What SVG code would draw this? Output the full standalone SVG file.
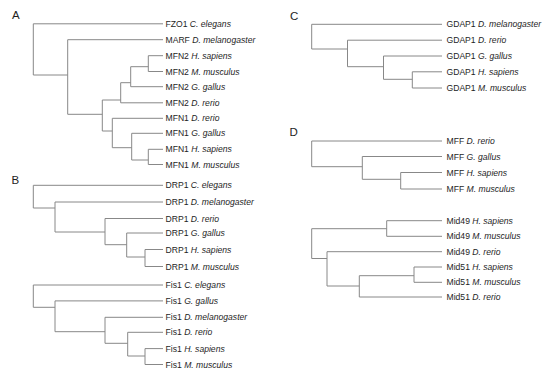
<svg xmlns="http://www.w3.org/2000/svg" width="550" height="377" viewBox="0 0 550 377">
<style>
.e{fill:none;stroke:#888;stroke-width:1}
.t{font-family:"Liberation Sans",Arial,sans-serif;font-size:8.6px;fill:#1e1e1e}
.t tspan{font-style:italic}
.p{font-family:"Liberation Sans",Arial,sans-serif;font-size:11.5px;fill:#1e1e1e}
</style>
<rect width="550" height="377" fill="#fff"/>
<g id="connectors" class="e">
<path id="tree-A" d="M33.3,23.8V75 M33.3,23.8H163 M33.3,75H67.7 M67.7,39.7V114.3 M67.7,39.7H163 M67.7,114.3H102.3 M102.3,100V131 M102.3,100H120.7 M102.3,131H112.3 M120.7,82.7V102.8 M120.7,82.7H130.7 M120.7,102.8H163 M130.7,66.7V86.7 M130.7,66.7H148.3 M130.7,86.7H163 M148.3,55.7V71.5 M148.3,55.7H163 M148.3,71.5H163 M112.3,118.3V147.7 M112.3,118.3H163 M112.3,147.7H131.7 M131.7,133.3V160 M131.7,133.3H163 M131.7,160H148.3 M148.3,149.3V164.5 M148.3,149.3H163 M148.3,164.5H163"/>
<path id="tree-B-DRP1" d="M33.3,185.3V208 M33.3,185.3H163 M33.3,208H55 M55,202V232 M55,202H163 M55,232H105 M105,218.5V244.7 M105,218.5H163 M105,244.7H126.7 M126.7,233V257 M126.7,233H163 M126.7,257H145 M145,249.5V266.5 M145,249.5H163 M145,266.5H163"/>
<path id="tree-B-Fis1" d="M33.3,285V307.3 M33.3,285H163 M33.3,307.3H55 M55,300.9V331.7 M55,300.9H163 M55,331.7H105 M105,317.3V343.3 M105,317.3H163 M105,343.3H127.7 M127.7,332.3V356 M127.7,332.3H163 M127.7,356H145 M145,348.6V364.5 M145,348.6H163 M145,364.5H163"/>
<path id="tree-C" d="M311.7,24.3V49 M311.7,24.3H442 M311.7,49H347.5 M347.5,40.2V66.7 M347.5,40.2H442 M347.5,66.7H383.5 M383.5,56V79.3 M383.5,56H442 M383.5,79.3H412.3 M412.3,71.8V88 M412.3,71.8H442 M412.3,88H442"/>
<path id="tree-D-MFF" d="M311.7,141V166.7 M311.7,141H442 M311.7,166.7H362.3 M362.3,156.5V179.3 M362.3,156.5H442 M362.3,179.3H400.7 M400.7,172.5V189 M400.7,172.5H442 M400.7,189H442"/>
<path id="tree-D-Mid" d="M311.7,228.7V258.5 M311.7,228.7H386.7 M386.7,220.7V236.3 M386.7,220.7H442 M386.7,236.3H442 M311.7,258.5H327 M327,251.7V286 M327,251.7H442 M327,286H359.3 M359.3,275.7V297 M359.3,297H442 M359.3,275.7H414 M414,267V282.3 M414,267H442 M414,282.3H442"/>
</g>
<g id="label-A"><text class="p" x="12" y="19">A</text></g>
<g id="label-B"><text class="p" x="11.5" y="184">B</text></g>
<g id="label-C"><text class="p" x="290" y="19.5">C</text></g>
<g id="label-D"><text class="p" x="289.5" y="135.5">D</text></g>
<g id="A-FZO1-Ce"><text class="t" x="165.5" y="26.8">FZO1 <tspan>C. elegans</tspan></text></g>
<g id="A-MARF-Dm"><text class="t" x="165.5" y="42.7">MARF <tspan>D. melanogaster</tspan></text></g>
<g id="A-MFN2-Hs"><text class="t" x="165.5" y="58.7">MFN2 <tspan>H. sapiens</tspan></text></g>
<g id="A-MFN2-Mm"><text class="t" x="165.5" y="74.5">MFN2 <tspan>M. musculus</tspan></text></g>
<g id="A-MFN2-Gg"><text class="t" x="165.5" y="89.7">MFN2 <tspan>G. gallus</tspan></text></g>
<g id="A-MFN2-Dr"><text class="t" x="165.5" y="105.8">MFN2 <tspan>D. rerio</tspan></text></g>
<g id="A-MFN1-Dr"><text class="t" x="165.5" y="121.3">MFN1 <tspan>D. rerio</tspan></text></g>
<g id="A-MFN1-Gg"><text class="t" x="165.5" y="136.3">MFN1 <tspan>G. gallus</tspan></text></g>
<g id="A-MFN1-Hs"><text class="t" x="165.5" y="152.3">MFN1 <tspan>H. sapiens</tspan></text></g>
<g id="A-MFN1-Mm"><text class="t" x="165.5" y="167.5">MFN1 <tspan>M. musculus</tspan></text></g>
<g id="B-DRP1-Ce"><text class="t" x="165.5" y="188.3">DRP1 <tspan>C. elegans</tspan></text></g>
<g id="B-DRP1-Dm"><text class="t" x="165.5" y="205">DRP1 <tspan>D. melanogaster</tspan></text></g>
<g id="B-DRP1-Dr"><text class="t" x="165.5" y="221.5">DRP1 <tspan>D. rerio</tspan></text></g>
<g id="B-DRP1-Gg"><text class="t" x="165.5" y="236">DRP1 <tspan>G. gallus</tspan></text></g>
<g id="B-DRP1-Hs"><text class="t" x="165.5" y="252.5">DRP1 <tspan>H. sapiens</tspan></text></g>
<g id="B-DRP1-Mm"><text class="t" x="165.5" y="269.5">DRP1 <tspan>M. musculus</tspan></text></g>
<g id="B-Fis1-Ce"><text class="t" x="165.5" y="288">Fis1 <tspan>C. elegans</tspan></text></g>
<g id="B-Fis1-Gg"><text class="t" x="165.5" y="303.9">Fis1 <tspan>G. gallus</tspan></text></g>
<g id="B-Fis1-Dm"><text class="t" x="165.5" y="320.3">Fis1 <tspan>D. melanogaster</tspan></text></g>
<g id="B-Fis1-Dr"><text class="t" x="165.5" y="335.3">Fis1 <tspan>D. rerio</tspan></text></g>
<g id="B-Fis1-Hs"><text class="t" x="165.5" y="351.6">Fis1 <tspan>H. sapiens</tspan></text></g>
<g id="B-Fis1-Mm"><text class="t" x="165.5" y="367.5">Fis1 <tspan>M. musculus</tspan></text></g>
<g id="C-GDAP1-Dm"><text class="t" x="446.5" y="27.3">GDAP1 <tspan>D. melanogaster</tspan></text></g>
<g id="C-GDAP1-Dr"><text class="t" x="446.5" y="43.2">GDAP1 <tspan>D. rerio</tspan></text></g>
<g id="C-GDAP1-Gg"><text class="t" x="446.5" y="59">GDAP1 <tspan>G. gallus</tspan></text></g>
<g id="C-GDAP1-Hs"><text class="t" x="446.5" y="74.8">GDAP1 <tspan>H. sapiens</tspan></text></g>
<g id="C-GDAP1-Mm"><text class="t" x="446.5" y="91">GDAP1 <tspan>M. musculus</tspan></text></g>
<g id="D-MFF-Dr"><text class="t" x="446.5" y="144">MFF <tspan>D. rerio</tspan></text></g>
<g id="D-MFF-Gg"><text class="t" x="446.5" y="159.5">MFF <tspan>G. gallus</tspan></text></g>
<g id="D-MFF-Hs"><text class="t" x="446.5" y="175.5">MFF <tspan>H. sapiens</tspan></text></g>
<g id="D-MFF-Mm"><text class="t" x="446.5" y="192">MFF <tspan>M. musculus</tspan></text></g>
<g id="D-Mid49-Hs"><text class="t" x="446.5" y="223.7">Mid49 <tspan>H. sapiens</tspan></text></g>
<g id="D-Mid49-Mm"><text class="t" x="446.5" y="239.3">Mid49 <tspan>M. musculus</tspan></text></g>
<g id="D-Mid49-Dr"><text class="t" x="446.5" y="254.7">Mid49 <tspan>D. rerio</tspan></text></g>
<g id="D-Mid51-Hs"><text class="t" x="446.5" y="270">Mid51 <tspan>H. sapiens</tspan></text></g>
<g id="D-Mid51-Mm"><text class="t" x="446.5" y="285.3">Mid51 <tspan>M. musculus</tspan></text></g>
<g id="D-Mid51-Dr"><text class="t" x="446.5" y="300">Mid51 <tspan>D. rerio</tspan></text></g>
</svg>
